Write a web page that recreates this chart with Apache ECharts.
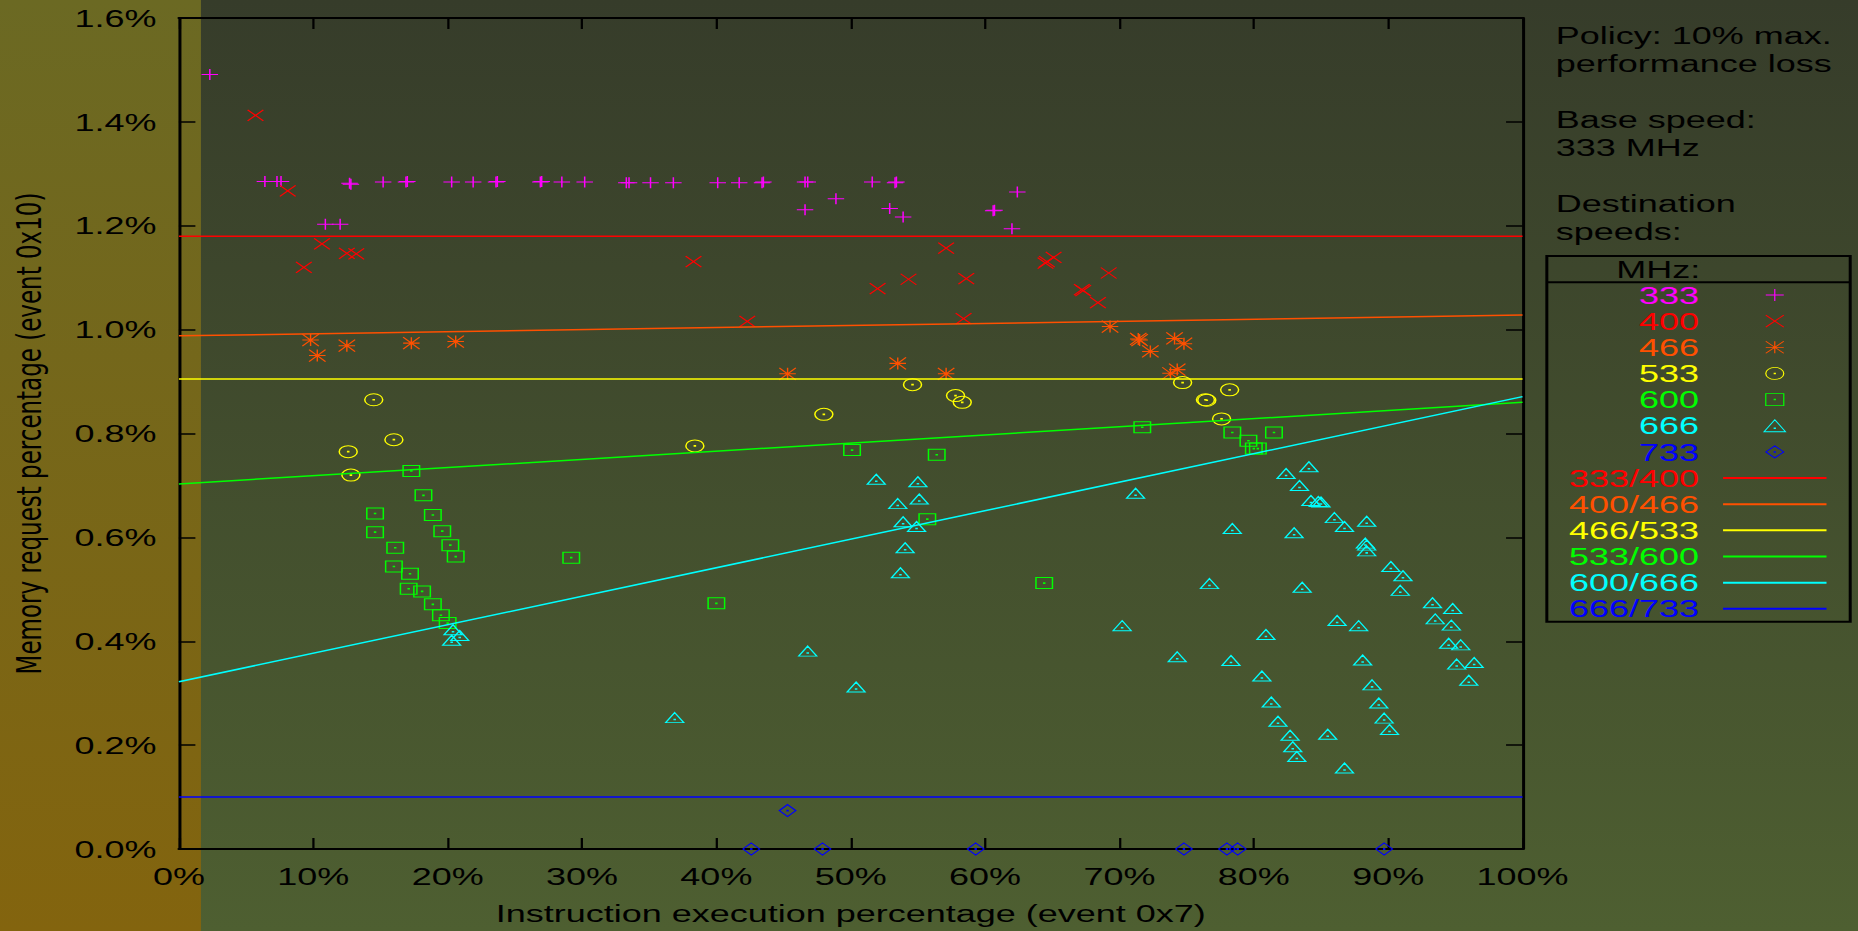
<!DOCTYPE html>
<html>
<head>
<meta charset="utf-8">
<script src="https://cdn.jsdelivr.net/npm/echarts@6/dist/echarts.min.js"></script>
<style>
  html, body { margin: 0; padding: 0; overflow: hidden; background: #434c2e; }
  /* the plot is laid out on a 4:3-style canvas and widened to the page */
  #chart { position: absolute; left: 0; top: 0; width: 1239px; height: 931px;
           transform: scaleX(1.4996); transform-origin: 0 0; }
</style>
</head>
<body>
<div id="chart"></div>
<script>
// ---- data: [instruction execution %, memory request %] ----
const speedNames = ['333', '400', '466', '533', '600', '666', '733'];
const thresholdNames = ['333/400', '400/466', '466/533', '533/600', '600/666', '666/733'];

const s333 = [[2.3,1.491],[6.4,1.285],[7.3,1.285],[7.6,1.285],[10.9,1.203],[12.0,1.203],
  [12.7,1.282],[12.8,1.280],[15.2,1.284],[16.9,1.284],[17.0,1.285],[20.3,1.284],[21.9,1.284],
  [23.6,1.284],[23.7,1.285],[26.9,1.284],[27.0,1.285],[28.5,1.284],[30.2,1.284],[33.3,1.283],
  [33.5,1.283],[35.1,1.283],[36.8,1.283],[40.1,1.283],[41.7,1.283],[43.4,1.283],[43.5,1.284],
  [46.6,1.284],[46.8,1.284],[46.6,1.231],[48.9,1.252],[51.6,1.284],[53.3,1.283],[53.4,1.284],
  [52.9,1.233],[53.9,1.217],[60.6,1.229],[60.7,1.230],[62.4,1.265],[62.0,1.194]];

const s400 = [[5.7,1.4125],[8.1,1.267],[10.65,1.165],[9.3,1.12],[12.5,1.147],[13.2,1.146],
  [38.3,1.131],[42.3,1.016],[52.0,1.079],[54.3,1.097],[57.1,1.157],[58.6,1.098],[58.4,1.021],
  [64.6,1.131],[64.5,1.128],[65.1,1.139],[67.2,1.077],[67.3,1.075],[68.4,1.052],[69.2,1.109]];

const s466 = [[9.8,0.980],[10.3,0.950],[12.5,0.969],[17.3,0.974],[20.6,0.977],[45.3,0.915],
  [53.5,0.935],[57.1,0.915],[69.3,1.006],[71.4,0.982],[71.5,0.980],[72.3,0.958],[74.1,0.983],
  [74.8,0.973],[73.8,0.916],[74.3,0.923]];

const s533 = [[14.5,0.865],[16.0,0.788],[12.6,0.765],[12.8,0.720],[38.4,0.776],[48.0,0.837],
  [54.6,0.894],[57.8,0.873],[58.3,0.860],[74.7,0.898],[76.4,0.865],[76.5,0.864],[78.2,0.884],
  [77.6,0.828]];

const s600 = [[17.3,0.728],[18.2,0.681],[14.6,0.646],[18.9,0.643],[14.6,0.610],[19.6,0.612],
  [20.2,0.585],[16.1,0.580],[20.6,0.563],[29.2,0.561],[16.0,0.544],[17.2,0.530],[17.1,0.501],
  [18.1,0.496],[18.9,0.471],[19.5,0.450],[20.0,0.435],[40.0,0.473],[50.1,0.768],[56.4,0.759],
  [55.7,0.635],[64.4,0.512],[71.7,0.812],[78.4,0.802],[79.6,0.786],[80.0,0.771],[80.3,0.771],
  [81.5,0.802]];

const s666 = [[20.4,0.422],[20.9,0.411],[20.3,0.402],
  [51.9,0.712],[55.0,0.707],[55.1,0.674],[53.5,0.665],[53.9,0.630],[54.9,0.621],[54.05,0.580],
  [53.7,0.532],[46.8,0.381],[50.4,0.312],[36.9,0.253],[71.2,0.685],[70.2,0.430],[74.3,0.370],
  [76.7,0.511],
  [84.1,0.736],[82.4,0.723],[83.4,0.700],[84.25,0.671],[84.8,0.669],[85.0,0.668],[78.4,0.617],
  [83.0,0.609],[86.0,0.638],[86.75,0.621],[88.4,0.631],[88.3,0.589],[88.4,0.585],[88.4,0.574],
  [83.6,0.504],[90.2,0.544],[91.1,0.526],[90.9,0.498],[93.3,0.474],[94.8,0.463],[93.5,0.443],
  [94.7,0.431],[86.2,0.440],[87.8,0.430],[80.9,0.413],[94.5,0.396],[95.4,0.393],[78.3,0.363],
  [88.1,0.364],[95.1,0.356],[96.4,0.359],[96.0,0.325],[80.6,0.333],[88.8,0.316],[81.3,0.283],
  [89.3,0.281],[81.8,0.246],[89.7,0.252],[82.7,0.219],[85.5,0.221],[90.1,0.230],[82.9,0.197],
  [83.2,0.178],[86.75,0.156]];

const s733 = [[45.3,0.074],[42.6,0],[47.9,0],[59.3,0],[74.8,0],[78.0,0],[78.8,0],[89.7,0]];

// threshold lines between neighbouring speeds: value at 0% and at 100%
const l333_400 = [[0,1.180],[100,1.180]];
const l400_466 = [[0,0.988],[100,1.028]];
const l466_533 = [[0,0.905],[100,0.905]];
const l533_600 = [[0,0.703],[100,0.860]];
const l600_666 = [[0,0.322],[100,0.871]];
const l666_733 = [[0,0.100],[100,0.100]];

const xTickValues = [0,10,20,30,40,50,60,70,80,90,100];
const yTickValues = [0,0.2,0.4,0.6,0.8,1.0,1.2,1.4,1.6];

// ---- styling ----
const FONT = '"Liberation Sans", Arial, sans-serif';
const speedColors = ['#ff00ff', '#ff0000', '#ff5000', '#ffff00', '#00ff00', '#00ffff', '#0000ff'];
const lineColors  = ['#ff0000', '#ff5000', '#ffff00', '#00ff00', '#00ffff', '#0000ff'];

const symbols = [
  'path://M-5,0H5M0,-5V5',
  'path://M-5,-5L5,5M5,-5L-5,5',
  'path://M-5,0H5M0,-5V5M-5,-5L5,5M5,-5L-5,5',
  'path://M-5,0A5,5,0,1,0,5,0A5,5,0,1,0,-5,0ZM-0.3,-0.3H0.3V0.3H-0.3Z',
  'path://M-5,-5H5V5H-5ZM-0.3,-0.3H0.3V0.3H-0.3Z',
  'path://M0,-6L6,4H-6ZM-0.3,0.7H0.3V1.3H-0.3Z',
  'path://M0,-5L5,0L0,5L-5,0ZM-0.3,-0.3H0.3V0.3H-0.3Z'
];
const symbolSizes = [[11,11],[10.5,11],[11,12],[12,12],[11,11],[12,10],[11,12]];
const pointSets = [s333, s400, s466, s533, s600, s666, s733];
const lineSets = [l333_400, l400_466, l466_533, l533_600, l600_666, l666_733];

const W = 1239, H = 931;
const chart = echarts.init(document.getElementById('chart'), null, { renderer: 'svg', width: W, height: H });

const scatterSeries = speedNames.map((name, i) => ({
  name, type: 'scatter', data: pointSets[i], clip: false,
  symbol: symbols[i], symbolSize: symbolSizes[i],
  itemStyle: { color: 'rgba(0,0,0,0)', borderColor: speedColors[i], borderWidth: 1, opacity: 1 },
  emphasis: { disabled: true }
}));
// threshold lines: no point markers, so the item colour stays transparent
const lineSeries = thresholdNames.map((name, i) => ({
  name, type: 'line', data: lineSets[i], symbol: 'none', showSymbol: false,
  lineStyle: { color: lineColors[i], width: 1.5 },
  itemStyle: { color: 'rgba(0,0,0,0)', borderWidth: 0 },
  emphasis: { disabled: true }
}));

const legendData = speedNames.map((n, i) => ({ name: n, textStyle: { color: speedColors[i] } }))
  .concat(thresholdNames.map((n, i) => ({ name: n, textStyle: { color: lineColors[i] } })));

const axisCommon = {
  axisLine: { show: true, onZero: false, lineStyle: { color: '#000', width: 2 } },
  axisTick: { show: true, inside: true, length: 11, lineStyle: { color: '#000', width: 1.5 } },
  splitLine: { show: false }
};

chart.setOption({
  animation: false,
  textStyle: { fontFamily: FONT },
  graphic: [
    { type: 'rect', silent: true, z: -100, shape: { x: 0, y: 0, width: W, height: H },
      style: { fill: new echarts.graphic.LinearGradient(0, 0, 0, 1, [
        { offset: 0, color: '#363c2a' }, { offset: 1, color: '#4e5f31' }]) } },
    { type: 'rect', silent: true, z: -99, shape: { x: 0, y: 0, width: 134, height: H },
      style: { fill: new echarts.graphic.LinearGradient(0, 0, 0, 1, [
        { offset: 0, color: '#6b6923' }, { offset: 1, color: '#83640e' }]) } },
    { type: 'rect', silent: true, z: 10, shape: { x: 1031.5, y: 256, width: 202.3, height: 365.7 },
      style: { fill: 'none', stroke: '#000', lineWidth: 2 } },
    { type: 'line', silent: true, z: 10, shape: { x1: 1031.5, y1: 282.3, x2: 1233.8, y2: 282.3 },
      style: { stroke: '#000', lineWidth: 2 } },
    { type: 'text', silent: true, z: 10, x: 1133.8, y: 269,
      style: { text: 'MHz:', fill: '#000', font: '24px ' + FONT, align: 'right', verticalAlign: 'middle' } }
  ],
  title: {
    text: 'Policy: 10% max.\nperformance loss\n\nBase speed:\n333 MHz\n\nDestination\nspeeds:',
    left: 1037.5, top: 21, padding: 0,
    textStyle: { fontSize: 24, fontWeight: 'normal', color: '#000', lineHeight: 28, fontFamily: FONT }
  },
  legend: {
    orient: 'vertical', right: 20, top: 283, padding: 0, itemGap: 2.15,
    itemWidth: 69, itemHeight: 12, align: 'right', selectedMode: false,
    itemStyle: { borderWidth: 0.8 },
    textStyle: { fontSize: 24, fontFamily: FONT, padding: [0, 11, 0, 0] },
    data: legendData
  },
  grid: { left: 119.3, top: 18, width: 896, height: 831, containLabel: false },
  xAxis: [
    Object.assign({
      type: 'value', min: 0, max: 100, interval: 10, position: 'bottom',
      name: 'Instruction execution percentage (event 0x7)', nameLocation: 'middle', nameGap: 52,
      nameTextStyle: { fontSize: 24, color: '#000', fontFamily: FONT },
      axisLabel: { fontSize: 24, color: '#000', margin: 15, fontFamily: FONT,
        formatter: v => xTickValues.includes(v) ? v + '%' : '' }
    }, axisCommon),
    Object.assign({
      type: 'value', min: 0, max: 100, interval: 10, position: 'top', axisLabel: { show: false }
    }, axisCommon)
  ],
  yAxis: [
    Object.assign({
      type: 'value', min: 0, max: 1.6, interval: 0.2, position: 'left',
      name: 'Memory request percentage (event 0x10)', nameLocation: 'middle', nameGap: 88,
      nameTextStyle: { fontSize: 23, color: '#000', fontFamily: '"DejaVu Sans", ' + FONT },
      axisLabel: { fontSize: 24, color: '#000', margin: 15, fontFamily: FONT,
        formatter: v => yTickValues.some(t => Math.abs(t - v) < 1e-9) ? v.toFixed(1) + '%' : '' }
    }, axisCommon),
    Object.assign({
      type: 'value', min: 0, max: 1.6, interval: 0.2, position: 'right', axisLabel: { show: false }
    }, axisCommon)
  ],
  series: scatterSeries.concat(lineSeries)
});
</script>
</body>
</html>
